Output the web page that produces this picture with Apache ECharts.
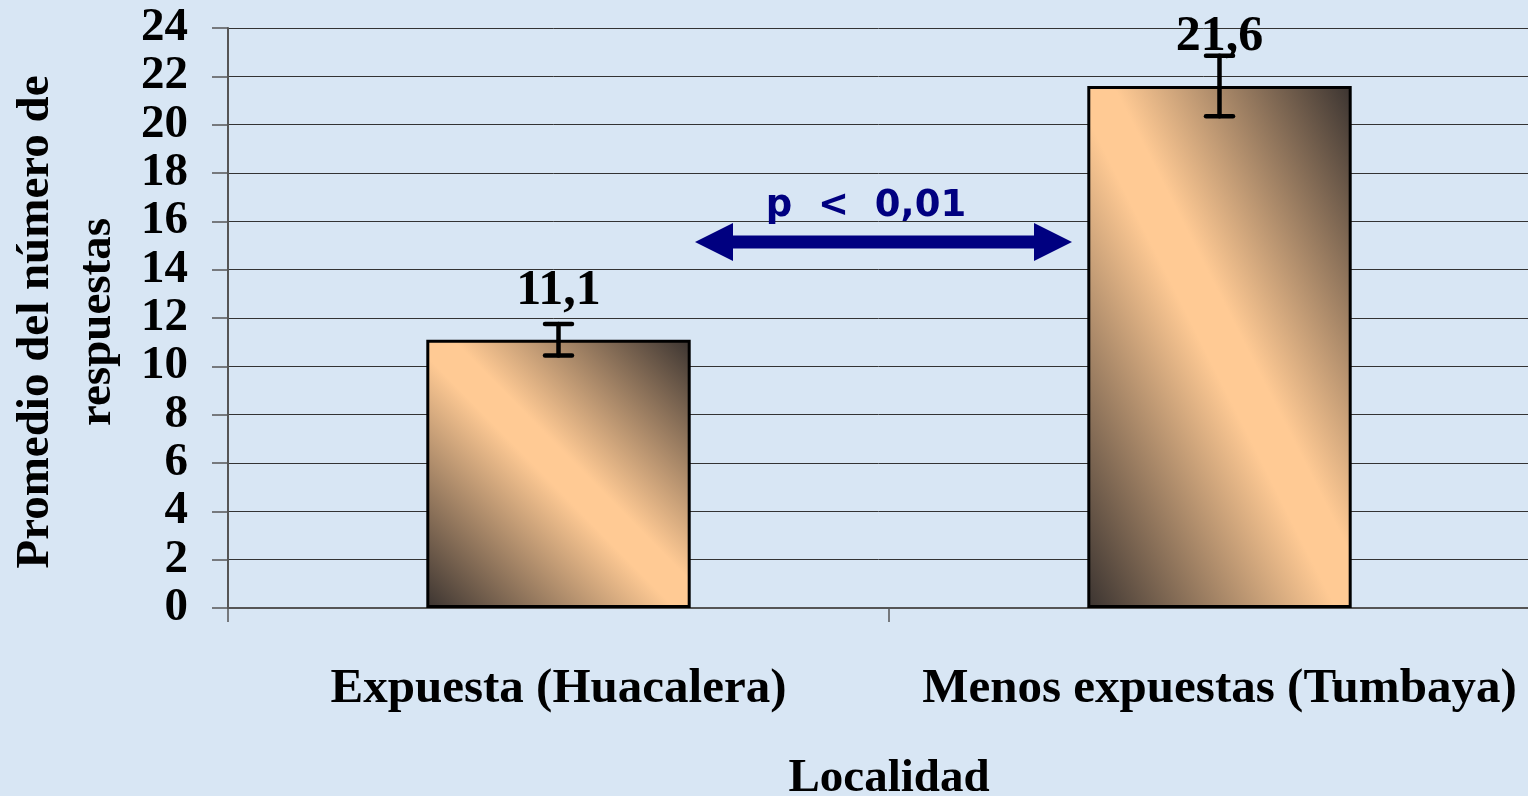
<!DOCTYPE html>
<html>
<head>
<meta charset="utf-8">
<script src="https://cdn.jsdelivr.net/npm/echarts@6/dist/echarts.min.js"></script>
<style>
html,body{margin:0;padding:0;background:#d8e6f4;}
#c{width:1528px;height:796px;}
</style>
</head>
<body>
<div id="c"></div>
<script>
// ---- data ----
var categories = ['Expuesta (Huacalera)', 'Menos expuestas (Tumbaya)'];
var means = [11.1, 21.6];
var errLow = [10.45, 20.35];
var errHigh = [11.75, 22.85];
var valueLabels = ['11,1', '21,6'];
var yTicks = [0, 24, 2]; // min, max, interval
var yTitle = 'Promedio del número de\nrespuestas';
var pText = 'p  <  0,01';

var serif = '"Liberation Serif", "Times New Roman", serif';
var dark = '#3a3330', peach = '#ffca94';

function grad(x, y, x2, y2) {
  return {type: 'linear', x: x, y: y, x2: x2, y2: y2,
    colorStops: [{offset: 0, color: dark}, {offset: 0.47, color: peach},
                 {offset: 0.55, color: peach}, {offset: 1, color: dark}]};
}

var chart = echarts.init(document.getElementById('c'), null, {renderer: 'canvas'});

function barData(colors) {
  return means.map(function (v, i) {
    var it = {value: v, label: {formatter: valueLabels[i]}};
    if (colors) it.itemStyle = {color: colors[i]};
    return it;
  });
}

var option = {
  backgroundColor: '#d8e6f4',
  animation: false,
  grid: {left: 228, right: -22, top: 28, bottom: 188, containLabel: false, outerBoundsMode: 'none'},
  xAxis: {
    type: 'category',
    data: categories,
    name: 'Localidad',
    nameLocation: 'middle',
    nameGap: 147,
    nameTextStyle: {fontFamily: serif, fontWeight: 'bold', fontSize: 47, color: '#000'},
    axisLine: {lineStyle: {color: '#555', width: 2}},
    axisTick: {show: true, length: 14, lineStyle: {color: '#555', width: 1.5}},
    axisLabel: {fontFamily: serif, fontWeight: 'bold', fontSize: 49, color: '#000', margin: 57,
                interval: 0, hideOverlap: false}
  },
  yAxis: {
    type: 'value',
    min: yTicks[0], max: yTicks[1], interval: yTicks[2],
    axisLine: {show: true, lineStyle: {color: '#555', width: 2}},
    axisTick: {show: true, length: 16, lineStyle: {color: '#555', width: 1.5}},
    axisLabel: {fontFamily: serif, fontWeight: 'bold', fontSize: 47, color: '#000', margin: 40, lineHeight: 40},
    splitLine: {show: true, lineStyle: {color: '#333', width: 1}}
  },
  series: [
    {
      type: 'bar',
      data: barData(null),
      barWidth: '40%',
      itemStyle: {color: peach, borderColor: '#000', borderWidth: 3},
      label: {show: true, position: 'top', distance: 24, fontFamily: serif,
              fontWeight: 'bold', fontSize: 50, color: '#000'},
      z: 2
    },
    {
      type: 'custom',
      z: 5,
      data: categories.map(function (c, i) { return [i, errLow[i], errHigh[i]]; }),
      renderItem: function (params, api) {
        var lo = api.coord([api.value(0), api.value(1)]);
        var hi = api.coord([api.value(0), api.value(2)]);
        var hw = 13.5;
        var st = {stroke: '#000', lineWidth: 4.5, lineCap: 'round'};
        return {type: 'group', children: [
          {type: 'line', shape: {x1: lo[0], y1: lo[1], x2: hi[0], y2: hi[1]}, style: st},
          {type: 'line', shape: {x1: lo[0] - hw, y1: lo[1], x2: lo[0] + hw, y2: lo[1]}, style: st},
          {type: 'line', shape: {x1: hi[0] - hw, y1: hi[1], x2: hi[0] + hw, y2: hi[1]}, style: st}
        ]};
      }
    }
  ],
  graphic: [
    {
      type: 'text',
      z: 10,
      x: 67, y: 322,
      rotation: Math.PI / 2,
      style: {text: yTitle, fill: '#000', fontFamily: serif, fontWeight: 'bold', fontSize: 47,
              lineHeight: 62, align: 'center', verticalAlign: 'middle'}
    },
    {
      type: 'polygon',
      z: 10,
      shape: {points: [[695, 242], [733, 223], [733, 235.5], [1034, 235.5], [1034, 223],
                       [1072, 242], [1034, 261], [1034, 248.5], [733, 248.5], [733, 261]]},
      style: {fill: '#000080'}
    },
    {
      type: 'text',
      z: 10,
      x: 866, y: 206,
      style: {text: pText, fill: '#000080', font: 'bold 37px "DejaVu Sans", sans-serif',
              align: 'center', verticalAlign: 'middle'}
    }
  ]
};
chart.setOption(option);

// Excel-like diagonal gradient: isolines run along the TL-BR diagonal of each bar
var c0 = chart.convertToPixel({xAxisIndex: 0}, 0);
var c1 = chart.convertToPixel({xAxisIndex: 0}, 1);
var bw = Math.abs(c1 - c0) * 0.4;
var y0 = chart.convertToPixel({yAxisIndex: 0}, 0);
var colors = means.map(function (v) {
  var h = y0 - chart.convertToPixel({yAxisIndex: 0}, v);
  var L2 = bw * bw + h * h;
  var a = h * h / L2, b = bw * bw / L2;
  return grad(0.5 - a, 0.5 + b, 0.5 + a, 0.5 - b);
});
chart.setOption({series: [{data: barData(colors)}]});
</script>
</body>
</html>
